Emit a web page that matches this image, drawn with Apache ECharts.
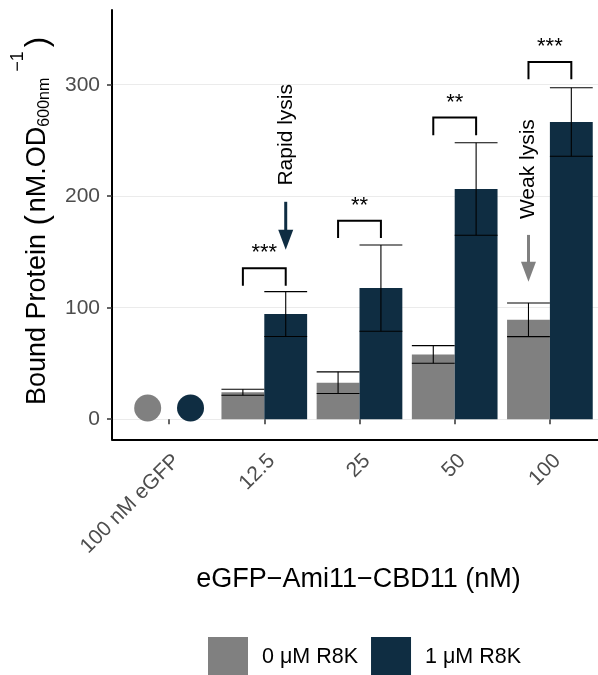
<!DOCTYPE html>
<html>
<head>
<meta charset="utf-8">
<script src="https://cdn.jsdelivr.net/npm/echarts@6/dist/echarts.min.js"></script>
<style>html,body{margin:0;padding:0;background:#fff}#c{width:598px;height:675px}</style>
</head>
<body>
<div id="c"></div>
<script>
// ---- data ----
const categories = ['100 nM eGFP', '12.5', '25', '50', '100'];
const seriesNames = ['0 μM R8K', '1 μM R8K'];
const mean0 = [null, 24.2, 32.8, 58.1, 89.2];
const err0  = [null, 2.7, 9.7, 7.9, 15.1];
const mean1 = [null, 94.3, 117.6, 206.5, 266.6];
const err1  = [null, 20.1, 38.7, 41.5, 30.7];
const controlPoints = [10, 10];          // 100 nM eGFP, 0 and 1 μM R8K
const yTicks = [0, 100, 200, 300];
const sigCats = [1, 2, 3, 4];
const sigTop = [135.4, 178.1, 270.5, 320.4];
const sigLeg = [119.8, 162.6, 254.7, 304.9];
const sigLabels = ['***', '**', '**', '***'];
const arrowCats = [1, 4];
const arrowSide = [1, 0];               // 1 = 1 μM bar, 0 = 0 μM bar
const arrowFrom = [195, 165.3];
const arrowTo = [152, 123.4];
const arrowLabels = ['Rapid lysis', 'Weak lysis'];
const arrowLabelY = [255.1, 224.3];

const C0 = '#808080', C1 = '#0f2d42';
const FONT = 'Liberation Sans, Arial, sans-serif';
const DODGE = 0.225, BARW = 0.45;

const chart = echarts.init(document.getElementById('c'), null, {renderer: 'canvas'});

const errData = [];
for (let i = 0; i < categories.length; i++) {
  if (mean0[i] != null) errData.push([i, mean0[i], err0[i], -1]);
  if (mean1[i] != null) errData.push([i, mean1[i], err1[i], 1]);
}
const pointData = controlPoints.map((v, k) => [0, v, k === 0 ? -1 : 1, k]);
const sigData = sigCats.map((c, k) => [c, sigTop[k], sigLeg[k], k]);
const arrowData = arrowCats.map((c, k) => [c, arrowFrom[k], arrowTo[k], arrowSide[k] ? 1 : -1, arrowLabelY[k], k]);

const option = {
  animation: false,
  backgroundColor: '#fff',
  textStyle: {fontFamily: FONT},
  grid: [
    {left: 112, right: -9, top: 10, bottom: 235.7, containLabel: false},
    {left: 121.5, right: 0.5, top: 10, bottom: 235.7, containLabel: false}
  ],
  xAxis: [
    {type: 'value', gridIndex: 0, min: 0.4, max: 5.6,
     axisLine: {show: true, onZero: false, lineStyle: {color: '#000', width: 2}},
     axisTick: {show: false}, axisLabel: {show: false}, splitLine: {show: false}},
    {type: 'category', gridIndex: 1, data: categories, boundaryGap: true,
     axisLine: {show: false},
     axisTick: {show: true, alignWithLabel: true, length: 5, lineStyle: {color: '#333', width: 1.5}},
     axisLabel: {rotate: 45, fontSize: 21, color: '#4d4d4d', margin: 11, fontFamily: FONT,
                 interval: 0, verticalAlign: 'top'},
     splitLine: {show: false}}
  ],
  yAxis: [
    {type: 'value', gridIndex: 0, min: -18, max: 367,
     axisLine: {show: true, onZero: false, lineStyle: {color: '#000', width: 2}},
     axisTick: {show: true, length: 5, customValues: yTicks, lineStyle: {color: '#333', width: 1.5}},
     axisLabel: {customValues: yTicks, fontSize: 21, color: '#4d4d4d', margin: 12, fontFamily: FONT},
     splitLine: {show: true, lineStyle: {color: '#ebebeb', width: 1}}},
    {type: 'value', gridIndex: 1, min: -18, max: 367, show: false,
     splitLine: {show: false}}
  ],
  legend: {
    data: seriesNames, left: 208, top: 637, orient: 'horizontal', padding: 0,
    icon: 'rect', itemWidth: 40, itemHeight: 40, itemGap: 13,
    textStyle: {fontSize: 21.5, color: '#000', fontFamily: FONT, padding: [0, 0, 0, 9]}
  },
  graphic: [
    {type: 'text', x: 358.5, y: 580, style: {
      text: 'eGFP−Ami11−CBD11 (nM)', fontSize: 27, fill: '#000', fontFamily: FONT,
      textAlign: 'center', textVerticalAlign: 'middle'}},
    {type: 'text', x: 38, y: 221, rotation: Math.PI / 2, style: {
      text: '{m|Bound Protein }{p|(}{m|nM.OD}{sub|600nm}{sup|−1}{q|)}',
      textAlign: 'center', textVerticalAlign: 'middle', fill: '#000', fontFamily: FONT,
      rich: {
        m: {fontSize: 27, fontFamily: FONT, fill: '#000'},
        p: {fontSize: 31, fontFamily: FONT, fill: '#000', padding: [0, 3, 0, 1]},
        q: {fontSize: 31, fontFamily: FONT, fill: '#000', padding: [0, 0, 0, 1]},
        sub: {fontSize: 16, fontFamily: FONT, fill: '#000', padding: [13, 0, 0, 0]},
        sup: {fontSize: 18, fontFamily: FONT, fill: '#000', padding: [0, 3, 40, 6]}
      }}}
  ],
  series: [
    {name: seriesNames[0], type: 'bar', xAxisIndex: 1, yAxisIndex: 1, data: mean0,
     barWidth: '45%', barGap: '0%', itemStyle: {color: C0}},
    {name: seriesNames[1], type: 'bar', xAxisIndex: 1, yAxisIndex: 1, data: mean1,
     barWidth: '45%', barGap: '0%', itemStyle: {color: C1}},
    {name: 'errors', type: 'custom', xAxisIndex: 1, yAxisIndex: 1, data: errData, z: 5,
     renderItem: function (params, api) {
       const c = api.value(0), m = api.value(1), e = api.value(2), s = api.value(3);
       const band = api.size([1, 0])[0];
       const cx = api.coord([c, m])[0] + s * DODGE * band;
       const yTop = api.coord([c, m + e])[1], yBot = api.coord([c, m - e])[1];
       const hw = BARW * band / 2;
       const st = {stroke: '#000', lineWidth: 1.1};
       return {type: 'group', children: [
         {type: 'line', shape: {x1: cx, y1: yTop, x2: cx, y2: yBot}, style: st},
         {type: 'line', shape: {x1: cx - hw, y1: yTop, x2: cx + hw, y2: yTop}, style: st},
         {type: 'line', shape: {x1: cx - hw, y1: yBot, x2: cx + hw, y2: yBot}, style: st}
       ]};
     }},
    {name: 'control', type: 'custom', xAxisIndex: 1, yAxisIndex: 1, data: pointData, z: 4,
     renderItem: function (params, api) {
       const band = api.size([1, 0])[0];
       const p = api.coord([api.value(0), api.value(1)]);
       const k = api.value(3);
       return {type: 'circle', shape: {cx: p[0] + api.value(2) * DODGE * band, cy: p[1], r: 13.5},
               style: {fill: k === 0 ? C0 : C1}};
     }},
    {name: 'signif', type: 'custom', xAxisIndex: 1, yAxisIndex: 1, data: sigData, z: 6,
     renderItem: function (params, api) {
       const band = api.size([1, 0])[0];
       const c = api.value(0);
       const pt = api.coord([c, api.value(1)]);
       const yl = api.coord([c, api.value(2)])[1];
       const x1 = pt[0] - DODGE * band, x2 = pt[0] + DODGE * band;
       return {type: 'group', children: [
         {type: 'polyline', shape: {points: [[x1, yl], [x1, pt[1]], [x2, pt[1]], [x2, yl]]},
          style: {stroke: '#000', lineWidth: 2, fill: null}},
         {type: 'text', x: pt[0], y: pt[1] - 15, style: {
           text: sigLabels[api.value(3)], fontSize: 22, fill: '#000', fontFamily: FONT,
           textAlign: 'center', textVerticalAlign: 'middle'}}
       ]};
     }},
    {name: 'arrows', type: 'custom', xAxisIndex: 1, yAxisIndex: 1, data: arrowData, z: 6,
     renderItem: function (params, api) {
       const band = api.size([1, 0])[0];
       const c = api.value(0), k = api.value(5);
       const x = api.coord([c, 0])[0] + api.value(3) * DODGE * band;
       const y1 = api.coord([c, api.value(1)])[1];
       const y2 = api.coord([c, api.value(2)])[1];
       const yl = api.coord([c, api.value(4)])[1];
       const col = api.value(3) > 0 ? C1 : C0;
       const hh = 20, hw = 7.5;
       return {type: 'group', children: [
         {type: 'line', shape: {x1: x, y1: y1, x2: x, y2: y2 - hh + 2}, style: {stroke: col, lineWidth: 3}},
         {type: 'polygon', shape: {points: [[x - hw, y2 - hh], [x + hw, y2 - hh], [x, y2]]}, style: {fill: col}},
         {type: 'text', x: x, y: yl, rotation: Math.PI / 2, style: {
           text: arrowLabels[k], fontSize: 21, fill: '#000', fontFamily: FONT,
           textAlign: 'center', textVerticalAlign: 'middle'}}
       ]};
     }}
  ]
};
chart.setOption(option);
</script>
</body>
</html>
